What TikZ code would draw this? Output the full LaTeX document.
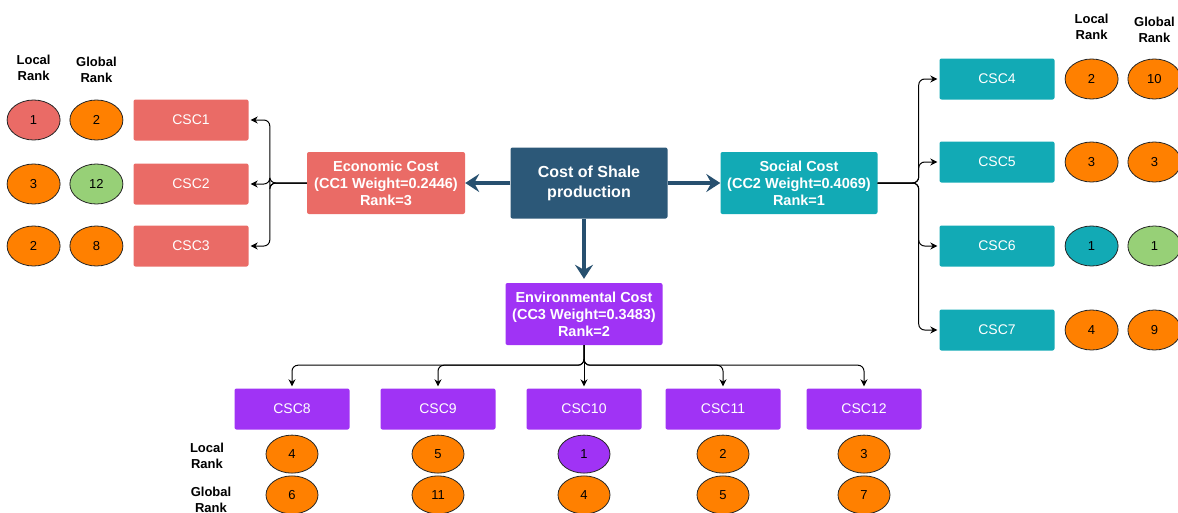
\documentclass[tikz,border=0pt]{standalone}
\usepackage{fontspec}
\setmainfont{Liberation Sans}
\usetikzlibrary{positioning, shapes.geometric, arrows.meta}

\definecolor{ecored}{HTML}{EA6B66}
\definecolor{shaleblue}{HTML}{2C5878}
\definecolor{socteal}{HTML}{12AAB5}
\definecolor{envpurple}{HTML}{A033F5}
\definecolor{rankorange}{HTML}{FF8000}
\definecolor{rankgreen}{HTML}{97D077}
\definecolor{arrowblue}{HTML}{27506F}

\tikzset{
  cscbox/.style = {
    rectangle, rounded corners = 2pt, minimum width = 115pt,
    minimum height = 41pt, inner sep = 0pt, text = white,
    font = \fontsize{14}{17}\selectfont},
  costbox/.style = {
    rectangle, rounded corners = 2pt, minimum width = 157pt,
    minimum height = 62pt, inner sep = 0pt, text = white, align = center,
    font = \bfseries\fontsize{14.5}{17}\selectfont},
  rank/.style = {
    ellipse, draw = black!85, line width = 0.8pt, minimum width = 53pt,
    minimum height = 40pt, inner sep = 0pt, fill = rankorange,
    font = \fontsize{13}{15}\selectfont},
  brank/.style = {rank, minimum width = 52pt, minimum height = 38pt},
  ranklabel/.style = {align = center, font = \bfseries\fontsize{13}{16}\selectfont},
  mainarrow/.style = {
    draw = arrowblue, line width = 3.2pt,
    -{Stealth[length = 14pt, width = 18pt, inset = 5pt]}},
  branch/.style = {
    draw, line width = 1pt, rounded corners = 6pt,
    -{Stealth[length = 7pt, width = 7pt]}, shorten > = 2pt}
}

\begin{document}
\begin{tikzpicture}[x = 1pt, y = -1pt]
  \useasboundingbox (0,0) rectangle (1178,512);

  % centre and the three cost groups
  \node [costbox, fill = shaleblue, minimum height = 71pt,
    font = \bfseries\fontsize{16}{20}\selectfont] (shale) at (589,183)
    {Cost of Shale\\production};
  \node [costbox, fill = ecored, minimum width = 158pt] (eco) at (386,183)
    {Economic Cost\\(CC1 Weight=0.2446)\\Rank=3};
  \node [costbox, fill = socteal] (soc) at (799,183)
    {Social Cost\\(CC2 Weight=0.4069)\\Rank=1};
  \node [costbox, fill = envpurple] (env) at (584,314)
    {Environmental Cost\\(CC3 Weight=0.3483)\\Rank=2};

  \draw [mainarrow] (shale.west) -- (eco.east);
  \draw [mainarrow] (shale.east) -- (soc.west);
  \draw [mainarrow, shorten > = 4pt] (env.north |- shale.south) -- (env.north);

  % economic sub-criteria
  \node [cscbox, fill = ecored] (csc1) at (191,120) {CSC1};
  \node [cscbox, fill = ecored] (csc2) at (191,184) {CSC2};
  \node [cscbox, fill = ecored] (csc3) at (191,246) {CSC3};

  \node [rank, left = 10pt of csc1] (g1) {2};
  \node [rank, fill = ecored, left = 9pt of g1] (l1) {1};
  \node [rank, fill = rankgreen, left = 10pt of csc2] (g2) {12};
  \node [rank, left = 9pt of g2] (l2) {3};
  \node [rank, left = 10pt of csc3] (g3) {8};
  \node [rank, left = 9pt of g3] (l3) {2};

  \node [ranklabel] (lleft) at (l1 |- 0,68) {Local\\Rank};
  \node [ranklabel] (gleft) at (g1 |- 0,70) {Global\\Rank};

  \draw [branch] (eco.west) -- ([xshift = -37pt] eco.west) |- (csc1.east);
  \draw [branch] (eco.west) -- ([xshift = -37pt] eco.west) |- (csc2.east);
  \draw [branch] (eco.west) -- ([xshift = -37pt] eco.west) |- (csc3.east);

  % social sub-criteria
  \node [cscbox, fill = socteal] (csc4) at (997,79) {CSC4};
  \node [cscbox, fill = socteal] (csc5) at (997,162) {CSC5};
  \node [cscbox, fill = socteal] (csc6) at (997,246) {CSC6};
  \node [cscbox, fill = socteal] (csc7) at (997,330) {CSC7};

  \node [rank, right = 10pt of csc4] (l4) {2};
  \node [rank, right = 9pt of l4] (g4) {10};
  \node [rank, right = 10pt of csc5] (l5) {3};
  \node [rank, right = 9pt of l5] (g5) {3};
  \node [rank, fill = socteal, right = 10pt of csc6] (l6) {1};
  \node [rank, fill = rankgreen, right = 9pt of l6] (g6) {1};
  \node [rank, right = 10pt of csc7] (l7) {4};
  \node [rank, right = 9pt of l7] (g7) {9};

  \node [ranklabel] (lright) at (l4 |- 0,27) {Local\\Rank};
  \node [ranklabel] (gright) at (g4 |- 0,30) {Global\\Rank};

  \draw [branch] (soc.east) -- ([xshift = 41pt] soc.east) |- (csc4.west);
  \draw [branch] (soc.east) -- ([xshift = 41pt] soc.east) |- (csc5.west);
  \draw [branch] (soc.east) -- ([xshift = 41pt] soc.east) |- (csc6.west);
  \draw [branch] (soc.east) -- ([xshift = 41pt] soc.east) |- (csc7.west);

  % environmental sub-criteria
  \node [cscbox, fill = envpurple] (csc8) at (292,409) {CSC8};
  \node [cscbox, fill = envpurple] (csc9) at (438,409) {CSC9};
  \node [cscbox, fill = envpurple] (csc10) at (584,409) {CSC10};
  \node [cscbox, fill = envpurple] (csc11) at (723,409) {CSC11};
  \node [cscbox, fill = envpurple] (csc12) at (864,409) {CSC12};

  \node [brank, below = 5pt of csc8] (l8) {4};
  \node [brank, below = 2pt of l8] (g8) {6};
  \node [brank, below = 5pt of csc9] (l9) {5};
  \node [brank, below = 2pt of l9] (g9) {11};
  \node [brank, fill = envpurple, below = 5pt of csc10] (l10) {1};
  \node [brank, below = 2pt of l10] (g10) {4};
  \node [brank, below = 5pt of csc11] (l11) {2};
  \node [brank, below = 2pt of l11] (g11) {5};
  \node [brank, below = 5pt of csc12] (l12) {3};
  \node [brank, below = 2pt of l12] (g12) {7};

  \node [ranklabel] (lbottom) at (207,456) {Local\\Rank};
  \node [ranklabel] (gbottom) at (211,500) {Global\\Rank};

  \draw [branch] (env.south) -- ++(0,20) -| (csc8.north);
  \draw [branch] (env.south) -- ++(0,20) -| (csc9.north);
  \draw [branch] (env.south) -- (csc10.north);
  \draw [branch] (env.south) -- ++(0,20) -| (csc11.north);
  \draw [branch] (env.south) -- ++(0,20) -| (csc12.north);
\end{tikzpicture}
\end{document}
